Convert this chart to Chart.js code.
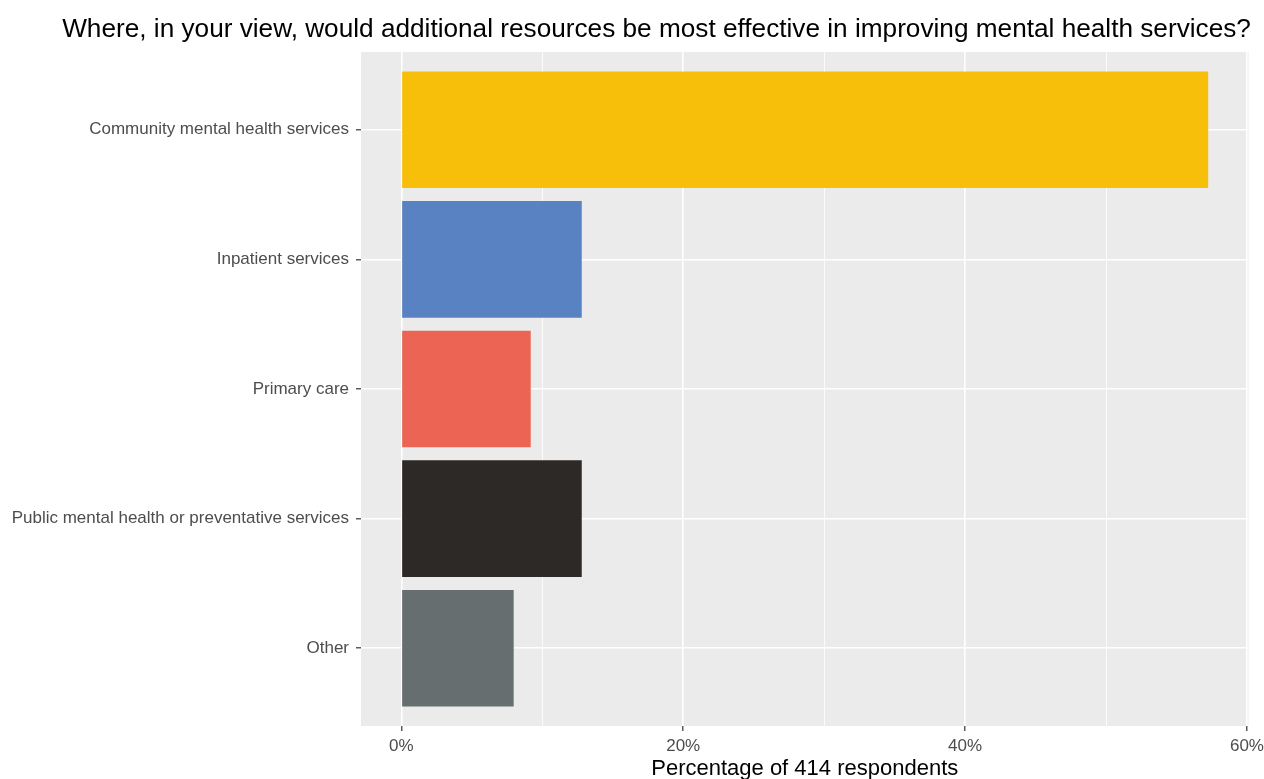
<!DOCTYPE html>
<html>
<head>
<meta charset="utf-8">
<script src="https://cdn.jsdelivr.net/npm/chart.js@4/dist/chart.umd.min.js"></script>
<style>
html,body{margin:0;padding:0;background:#fff;}
#wrap{position:relative;width:1264px;height:779px;}
</style>
</head>
<body>
<div id="wrap"><canvas id="c" width="1264" height="779"></canvas></div>
<script>
const chartTitle = "Where, in your view, would additional resources be most effective in improving mental health services?";
const categories = [
  "Community mental health services",
  "Inpatient services",
  "Primary care",
  "Public mental health or preventative services",
  "Other"
];
const percentages = [57.25, 12.80, 9.18, 12.80, 7.97];
const barColors = ["#f7bf0a", "#5882c2", "#ec6554", "#2d2926", "#676e70"];
const xTickValues = [0, 10, 20, 30, 40, 50, 60];
const xLabelledTicks = [0, 20, 40, 60];
const xAxisTitle = "Percentage of 414 respondents";

const FONT = "'Liberation Sans', Arial, sans-serif";

const panelPlugin = {
  id: 'panel',
  beforeDraw(chart) {
    const {ctx, chartArea: a} = chart;
    ctx.save();
    ctx.fillStyle = '#ebebeb';
    ctx.fillRect(a.left, a.top, a.right - a.left, a.bottom - a.top);
    ctx.restore();
  },
  afterDraw(chart) {
    const ctx = chart.ctx;
    ctx.save();
    ctx.font = "26.2px " + FONT;
    ctx.fillStyle = '#000';
    ctx.textAlign = 'center';
    ctx.textBaseline = 'alphabetic';
    ctx.fillText(chartTitle, 656.5, 37);
    ctx.restore();
  }
};

const data = {
  datasets: [{
    data: percentages.map((v, i) => ({x: v, y: i})),
    backgroundColor: barColors,
    borderWidth: 0,
    barPercentage: 0.9,
    categoryPercentage: 1.0
  }]
};

new Chart(document.getElementById('c'), {
  type: 'bar',
  data: data,
  plugins: [panelPlugin],
  options: {
    indexAxis: 'y',
    responsive: false,
    animation: false,
    layout: {padding: {top: 52, right: 15.5, left: 0, bottom: 0}},
    plugins: {legend: {display: false}, tooltip: {enabled: false}, title: {display: false}},
    scales: {
      x: {
        type: 'linear',
        min: -2.863,
        max: 60.11,
        afterBuildTicks(scale) { scale.ticks = xTickValues.map(v => ({value: v})); },
        afterFit(scale) { scale.height = 53; scale.paddingLeft = 0; scale.paddingRight = 0; },
        border: {display: false},
        grid: {
          color: '#ffffff',
          lineWidth: (c) => (c.tick && xLabelledTicks.includes(c.tick.value)) ? 1.6 : 0.8,
          tickColor: (c) => (c.tick && xLabelledTicks.includes(c.tick.value)) ? '#333333' : 'rgba(0,0,0,0)',
          tickWidth: 1.2,
          tickLength: 5,
          drawTicks: true
        },
        ticks: {
          autoSkip: false,
          maxRotation: 0,
          padding: 5,
          color: '#4d4d4d',
          font: {family: FONT, size: 17},
          callback: (v) => xLabelledTicks.includes(v) ? v + '%' : ''
        },
        title: {
          display: true,
          text: xAxisTitle,
          color: '#000',
          font: {family: FONT, size: 22},
          padding: {top: 0, bottom: -3}
        }
      },
      y: {
        type: 'linear',
        reverse: true,
        offset: false,
        min: -0.6,
        max: 4.6,
        afterBuildTicks(scale) { scale.ticks = categories.map((_, i) => ({value: i})); },
        afterFit(scale) { scale.width = 361; },
        border: {display: false},
        grid: {
          offset: false,
          color: '#ffffff',
          lineWidth: 1.6,
          tickColor: '#333333',
          tickWidth: 1.2,
          tickLength: 5
        },
        ticks: {
          autoSkip: false,
          padding: 7,
          color: '#4d4d4d',
          font: {family: FONT, size: 17},
          callback: (v) => categories[v] !== undefined ? categories[v] : ''
        }
      }
    }
  }
});
</script>
</body>
</html>
